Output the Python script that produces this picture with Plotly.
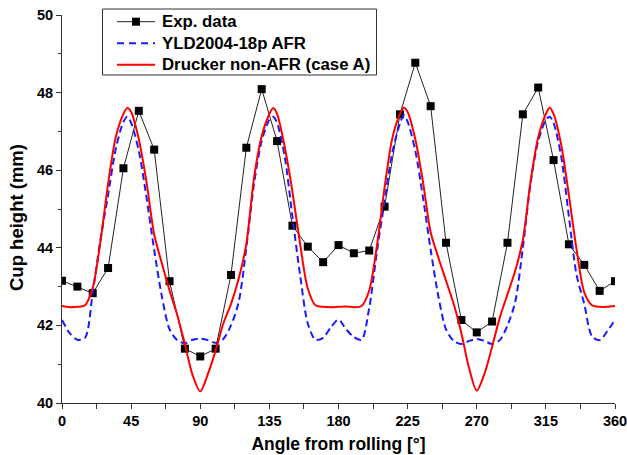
import plotly.graph_objects as go

# Experimental data
exp_angles = [0, 10, 20, 30, 40, 50, 60, 70, 80, 90, 100, 110, 120, 130, 140, 150, 160, 170, 180,
              190, 200, 210, 220, 230, 240, 250, 260, 270, 280, 290, 300, 310, 320, 330, 340, 350, 360]
exp_values = [43.15, 43.0, 42.83, 43.48, 46.05, 47.53, 46.53, 43.14, 41.4, 41.2, 41.4, 43.3, 46.58,
              48.09, 46.75, 44.57, 44.03, 43.63, 44.07, 43.86, 43.93, 45.06, 47.44, 48.77, 47.65,
              44.13, 42.14, 41.82, 42.1, 44.13, 47.44, 48.13, 46.26, 44.09, 43.56, 42.89, 43.14]

# Simulation curves
curve_angles = [0, 5, 10, 15, 20, 25, 30, 35, 40, 42.5, 45, 50, 55, 60, 65, 70, 75, 80, 85, 90,
                95, 100, 105, 110, 115, 120, 125, 130, 135, 137.5, 140, 145, 150, 155, 160, 165, 170, 175,
                180, 185, 190, 195, 200, 205, 210, 215, 220, 222.5, 225, 230, 235, 240, 245, 250, 255, 260,
                265, 270, 275, 280, 285, 290, 295, 300, 305, 310, 315, 317.5, 320, 325, 330, 335, 340, 345,
                350, 355, 360]

yld_values = [42.14, 41.8, 41.63, 41.68, 42.85, 44.2, 45.36, 46.55, 47.25, 47.38, 47.22, 46.5, 45.3,
              43.95, 42.75, 41.9, 41.62, 41.54, 41.63, 41.66,
              41.62, 41.55, 41.65, 42.0, 42.6, 44.0, 45.65, 46.75, 47.3, 47.38, 47.22, 46.35, 44.8,
              43.3, 42.05, 41.63, 41.68, 41.95,
              42.15, 41.9, 41.7, 41.63, 42.45, 43.9, 45.2, 46.45, 47.2, 47.42, 47.25, 46.5, 45.3,
              43.95, 42.75, 41.9, 41.6, 41.52,
              41.6, 41.65, 41.6, 41.52, 41.62, 42.0, 42.6, 44.0, 45.65, 46.75, 47.3, 47.38, 47.22,
              46.35, 44.8, 43.3, 42.55, 41.72,
              41.62, 41.85, 42.14]

drucker_values = [42.5, 42.47, 42.48, 42.52, 42.97, 44.15, 45.65, 46.85, 47.45, 47.6, 47.5, 46.8, 45.7,
                  44.35, 43.6, 42.9, 42.27, 41.52, 40.72, 40.3,
                  40.75, 41.35, 42.05, 42.55, 43.2, 44.1, 45.8, 46.88, 47.45, 47.6, 47.45, 46.6, 45.45,
                  44.1, 42.95, 42.52, 42.48, 42.47,
                  42.48, 42.49, 42.47, 42.5, 42.9, 44.05, 45.55, 46.82, 47.45, 47.61, 47.5, 46.8, 45.7,
                  44.4, 43.75, 43.15, 42.55, 41.8,
                  40.9, 40.32, 40.75, 41.45, 42.2, 42.8, 43.4, 44.2, 45.7, 46.85, 47.45, 47.61, 47.45,
                  46.65, 45.35, 43.95, 42.85, 42.52,
                  42.48, 42.48, 42.5]

x_tick_vals = [0, 45, 90, 135, 180, 225, 270, 315, 360]
y_tick_vals = [40, 42, 44, 46, 48, 50]

series_names = ["Exp. data", "YLD2004-18p AFR", "Drucker non-AFR (case A)"]
series_colors = ["#222222", "#1a1aff", "#ff0000"]
x_title = "Angle from rolling [°]"
y_title = "Cup height (mm)"

FONT = "Liberation Sans, Arial, sans-serif"
W, H = 627, 455
ML, MR, MT, MB = 62, 12, 15, 52
PW, PH = W - ML - MR, H - MT - MB


def px_x(px):
    return (px - ML) / PW


def px_y(py):
    return (H - MB - py) / PH


fig = go.Figure()
fig.add_trace(go.Scatter(
    x=exp_angles, y=exp_values, mode="lines+markers", name=series_names[0],
    line=dict(color=series_colors[0], width=1),
    marker=dict(symbol="square", size=8, color="black"),
))
fig.add_trace(go.Scatter(
    x=curve_angles, y=yld_values, mode="lines", name=series_names[1],
    line=dict(color=series_colors[1], width=2, dash="7px,4px", shape="spline", smoothing=0.8),
))
fig.add_trace(go.Scatter(
    x=curve_angles, y=drucker_values, mode="lines", name=series_names[2],
    line=dict(color=series_colors[2], width=2, shape="spline", smoothing=0.8),
))

# Manual legend (box, samples, labels)
shapes = [dict(type="rect", xref="paper", yref="paper",
               x0=px_x(102.5), x1=px_x(376.5), y0=px_y(75), y1=px_y(9),
               line=dict(color="#333333", width=1), fillcolor="white", layer="above")]
annotations = []
row_y = [21.7, 43.3, 64.8]
dashes = ["solid", "7px,5px", "solid"]
widths = [1, 2, 2]
for name, color, ry, dsh, lw in zip(series_names, series_colors, row_y, dashes, widths):
    shapes.append(dict(type="line", xref="paper", yref="paper",
                       x0=px_x(117), x1=px_x(155), y0=px_y(ry), y1=px_y(ry),
                       line=dict(color=color, width=lw, dash=dsh), layer="above"))
    annotations.append(dict(xref="paper", yref="paper", x=px_x(159.5), y=px_y(ry),
                            xanchor="left", yanchor="middle", showarrow=False, text=name,
                            font=dict(family=FONT, size=16.8, color="black", weight="bold")))
shapes.append(dict(type="rect", xref="paper", yref="paper",
                   x0=px_x(132), x1=px_x(140), y0=px_y(row_y[0] + 4), y1=px_y(row_y[0] - 4),
                   line=dict(color="black", width=0), fillcolor="black", layer="above"))

# Y-axis title as rotated annotation (slightly below plot centre, as in the original)
annotations.append(dict(xref="paper", yref="paper", x=px_x(17), y=px_y(218),
                        xanchor="center", yanchor="middle", textangle=-90, showarrow=False,
                        text=y_title, font=dict(family=FONT, size=18.5, color="black", weight="bold")))

fig.update_layout(
    width=W, height=H,
    margin=dict(l=ML, r=MR, t=MT, b=MB, autoexpand=False),
    paper_bgcolor="white", plot_bgcolor="white",
    font=dict(family=FONT, size=14, color="black", weight="bold"),
    showlegend=False,
    shapes=shapes,
    annotations=annotations,
)

fig.update_xaxes(
    range=[0, 360], tickvals=x_tick_vals, automargin=False, ticklabeloverflow="allow",
    showgrid=False, zeroline=False,
    showline=True, linecolor="#333333", linewidth=1,
    ticks="outside", ticklen=5, tickcolor="#333333",
    minor=dict(dtick=22.5, tick0=0, ticks="outside", ticklen=5, tickcolor="#333333"),
    tickfont=dict(family=FONT, size=14.5, weight="bold"),
    title=dict(text=x_title, font=dict(family=FONT, size=17.5, weight="bold"), standoff=9),
)
fig.update_yaxes(
    range=[40, 50], tickvals=y_tick_vals, automargin=False, ticklabeloverflow="allow",
    showgrid=False, zeroline=False,
    showline=True, linecolor="#333333", linewidth=1,
    ticks="outside", ticklen=5, tickcolor="#333333",
    minor=dict(dtick=1, tick0=40, ticks="outside", ticklen=3, tickcolor="#333333"),
    tickfont=dict(family=FONT, size=14.5, weight="bold"),
)

fig.write_html("out.html")
